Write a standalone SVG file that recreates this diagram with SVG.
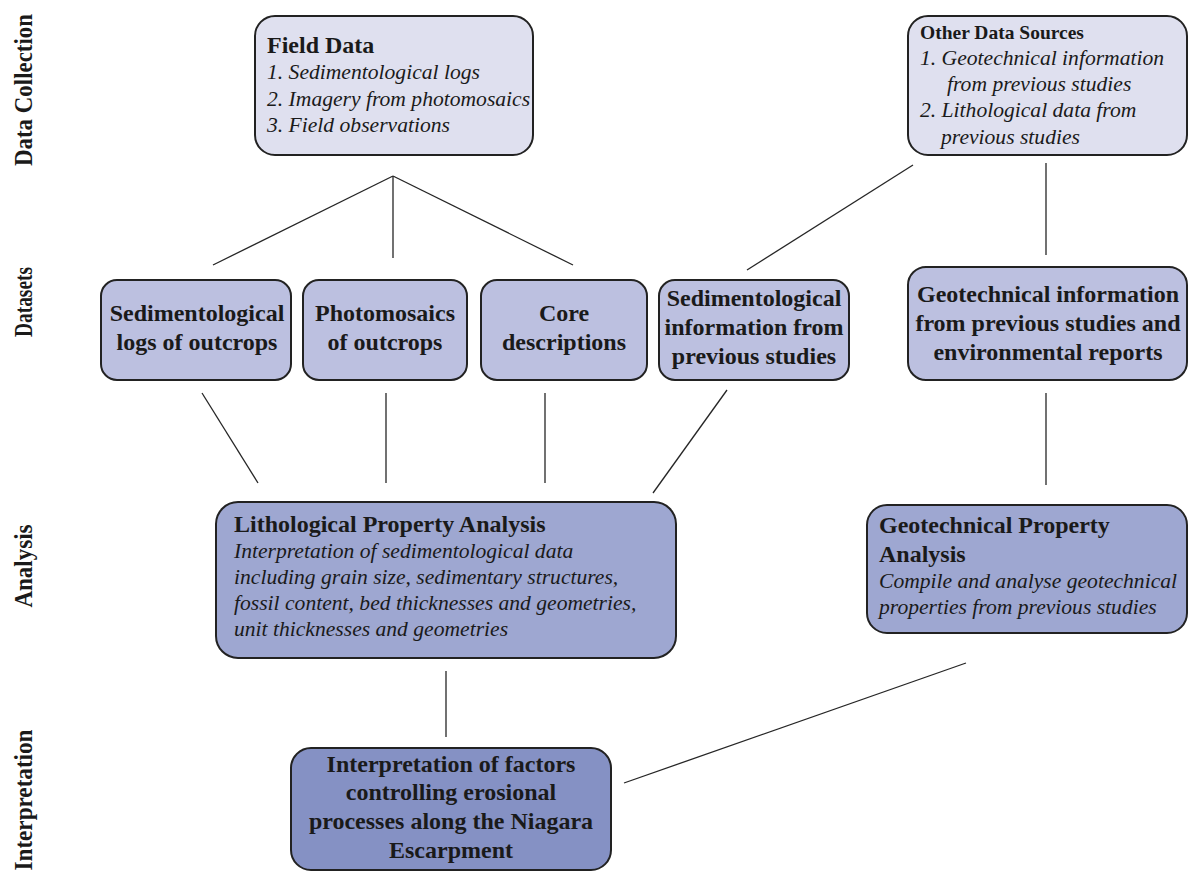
<svg xmlns="http://www.w3.org/2000/svg" width="1189" height="873" viewBox="0 0 1189 873">
  <style>
    .box { stroke: #222222; stroke-width: 2; }
    .c1 { fill: #dfe0ef; }
    .c2 { fill: #bcc0e0; }
    .c3 { fill: #9ea7d1; }
    .c4 { fill: #8591c4; }
    text { font-family: "Liberation Serif", "Times New Roman", serif; fill: #1a1a1a; }
    .b { font-weight: bold; font-size: 24px; }
    .i { font-style: italic; font-size: 21.6px; }
    .mid { text-anchor: middle; }
    .side { font-weight: bold; font-size: 26px; text-anchor: middle; }
    .conn line { stroke: #262626; stroke-width: 1.3; }
  </style>

  <!-- stage labels along the left edge -->
  <g id="stage-labels">
    <text class="side" transform="translate(32,90) rotate(-90)" textLength="152" lengthAdjust="spacingAndGlyphs">Data Collection</text>
    <text class="side" transform="translate(32,302) rotate(-90)" textLength="70" lengthAdjust="spacingAndGlyphs">Datasets</text>
    <text class="side" transform="translate(32,566) rotate(-90)" textLength="83" lengthAdjust="spacingAndGlyphs">Analysis</text>
    <text class="side" transform="translate(32,800) rotate(-90)" textLength="141" lengthAdjust="spacingAndGlyphs">Interpretation</text>
  </g>

  <!-- connectors -->
  <g id="connectors" class="conn">
    <line x1="393" y1="176" x2="213" y2="265"/>
    <line x1="393" y1="176" x2="393" y2="258"/>
    <line x1="393" y1="176" x2="573" y2="265"/>
    <line x1="913" y1="165" x2="747" y2="270"/>
    <line x1="1046" y1="163" x2="1046" y2="255"/>
    <line x1="202" y1="393" x2="258" y2="483"/>
    <line x1="386" y1="393" x2="386" y2="483"/>
    <line x1="545" y1="393" x2="545" y2="483"/>
    <line x1="727" y1="390" x2="653" y2="493"/>
    <line x1="1046" y1="393" x2="1046" y2="485"/>
    <line x1="446" y1="671" x2="446" y2="737"/>
    <line x1="966" y1="663" x2="624" y2="783"/>
  </g>

  <!-- data collection -->
  <g id="field-data">
    <rect class="box c1" x="255" y="16" width="278" height="139" rx="20"/>
    <text class="b" x="267" y="53">Field Data</text>
    <text class="i" x="267" y="79">1. Sedimentological logs</text>
    <text class="i" x="267" y="106">2. Imagery from photomosaics</text>
    <text class="i" x="267" y="132">3. Field observations</text>
  </g>

  <g id="other-sources">
    <rect class="box c1" x="908" y="16" width="279" height="139" rx="20"/>
    <text x="920" y="39" style="font-weight:bold;font-size:19.5px">Other Data Sources</text>
    <text class="i" x="920" y="65">1. Geotechnical information</text>
    <text class="i" x="947" y="91">from previous studies</text>
    <text class="i" x="920" y="117">2. Lithological data from</text>
    <text class="i" x="941" y="144">previous studies</text>
  </g>

  <!-- datasets -->
  <g id="sed-logs">
    <rect class="box c2" x="101" y="280" width="190" height="100" rx="16"/>
    <text class="b mid" x="197" y="321">Sedimentological</text>
    <text class="b mid" x="197" y="350">logs of outcrops</text>
  </g>

  <g id="photomosaics">
    <rect class="box c2" x="303" y="280" width="164" height="100" rx="16"/>
    <text class="b mid" x="385" y="321">Photomosaics</text>
    <text class="b mid" x="385" y="350">of outcrops</text>
  </g>

  <g id="core-descriptions">
    <rect class="box c2" x="481" y="280" width="166" height="100" rx="16"/>
    <text class="b mid" x="564" y="321">Core</text>
    <text class="b mid" x="564" y="350">descriptions</text>
  </g>

  <g id="sed-info">
    <rect class="box c2" x="659" y="280" width="190" height="100" rx="16"/>
    <text class="b mid" x="754" y="306">Sedimentological</text>
    <text class="b mid" x="754" y="335">information from</text>
    <text class="b mid" x="754" y="364">previous studies</text>
  </g>

  <g id="geotech-info">
    <rect class="box c2" x="908" y="267" width="279" height="113" rx="18"/>
    <text class="b mid" x="1048" y="302">Geotechnical information</text>
    <text class="b mid" x="1048" y="331">from previous studies and</text>
    <text class="b mid" x="1048" y="360">environmental reports</text>
  </g>

  <!-- analysis -->
  <g id="litho-analysis">
    <rect class="box c3" x="216" y="502" width="460" height="156" rx="22"/>
    <text class="b" x="234" y="532">Lithological Property Analysis</text>
    <text class="i" x="234" y="558">Interpretation of sedimentological data</text>
    <text class="i" x="234" y="584">including grain size, sedimentary structures,</text>
    <text class="i" x="234" y="610">fossil content, bed thicknesses and geometries,</text>
    <text class="i" x="234" y="636">unit thicknesses and geometries</text>
  </g>

  <g id="geotech-analysis">
    <rect class="box c3" x="867" y="505" width="320" height="128" rx="20"/>
    <text class="b" x="879" y="533">Geotechnical Property</text>
    <text class="b" x="879" y="562">Analysis</text>
    <text class="i" x="879" y="588">Compile and analyse geotechnical</text>
    <text class="i" x="879" y="614">properties from previous studies</text>
  </g>

  <!-- interpretation -->
  <g id="interpretation">
    <rect class="box c4" x="291" y="748" width="320" height="122" rx="20"/>
    <text class="b mid" x="451" y="772">Interpretation of factors</text>
    <text class="b mid" x="451" y="800">controlling erosional</text>
    <text class="b mid" x="451" y="829">processes along the Niagara</text>
    <text class="b mid" x="451" y="858">Escarpment</text>
  </g>
</svg>
